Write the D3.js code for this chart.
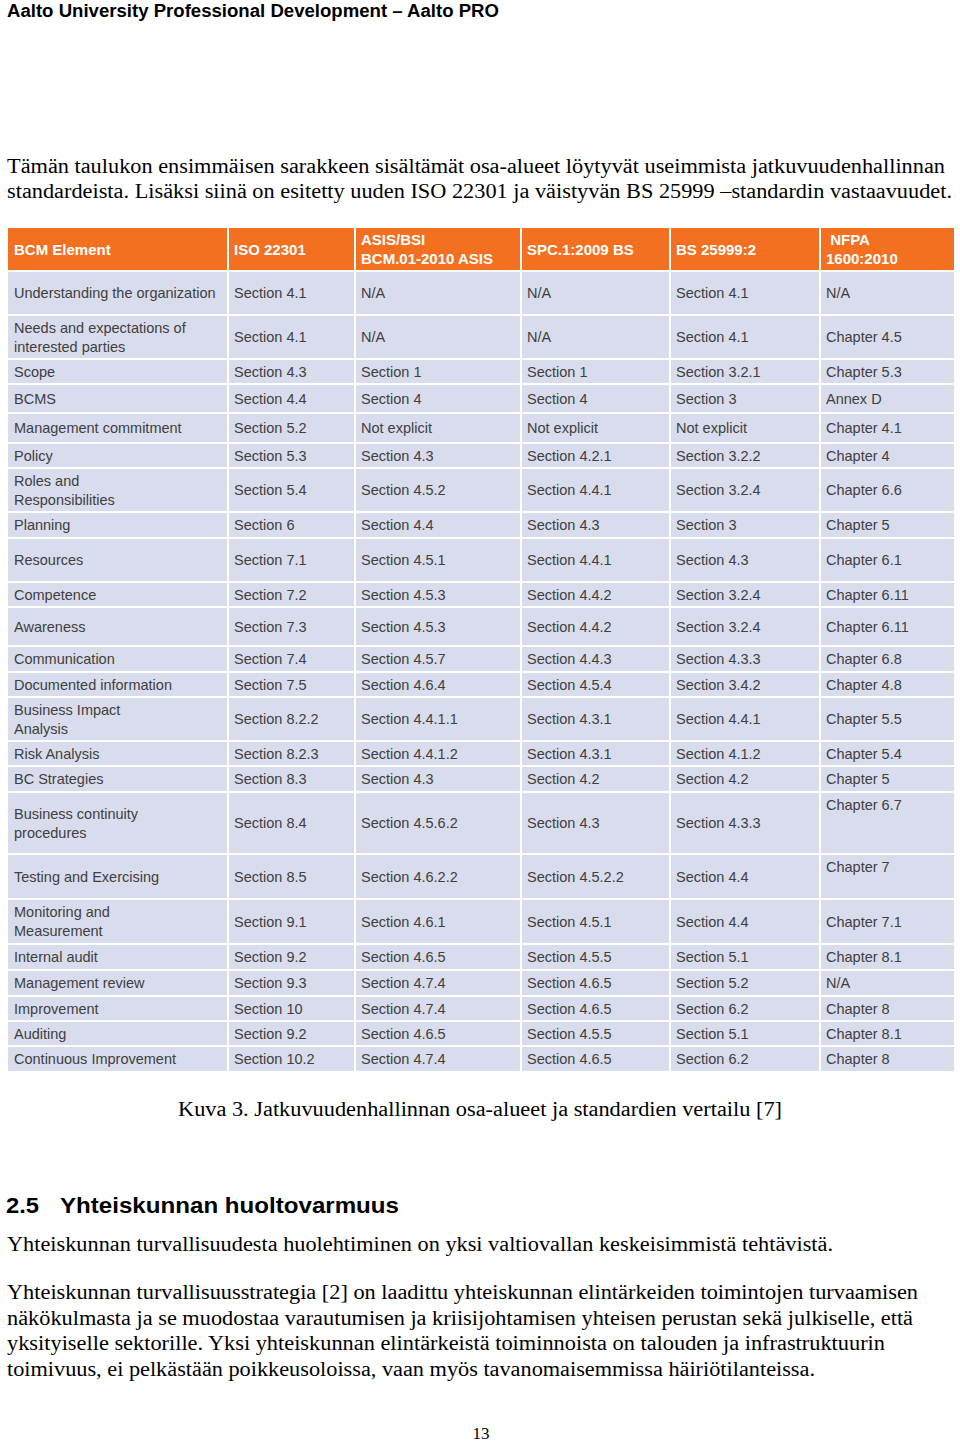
<!DOCTYPE html>
<html>
<head>
<meta charset="utf-8">
<script src="https://cdn.jsdelivr.net/npm/d3@7"></script>
<style>
  body { margin: 0; background: #fff; }
  svg { display: block; }
</style>
</head>
<body>
<div id="page"></div>
<script>
// table data
var headers = [["BCM Element"], ["ISO 22301"], ["ASIS/BSI", "BCM.01-2010 ASIS"], ["SPC.1:2009 BS"], ["BS 25999:2"], [" NFPA", "1600:2010"]];

var elements = [
  ["Understanding the organization"], ["Needs and expectations of", "interested parties"], ["Scope"], ["BCMS"],
  ["Management commitment"], ["Policy"], ["Roles and", "Responsibilities"], ["Planning"], ["Resources"],
  ["Competence"], ["Awareness"], ["Communication"], ["Documented information"], ["Business Impact", "Analysis"],
  ["Risk Analysis"], ["BC Strategies"], ["Business continuity", "procedures"], ["Testing and Exercising"],
  ["Monitoring and", "Measurement"], ["Internal audit"], ["Management review"], ["Improvement"], ["Auditing"],
  ["Continuous Improvement"]
];
var iso22301 = ["Section 4.1", "Section 4.1", "Section 4.3", "Section 4.4", "Section 5.2", "Section 5.3", "Section 5.4",
  "Section 6", "Section 7.1", "Section 7.2", "Section 7.3", "Section 7.4", "Section 7.5", "Section 8.2.2", "Section 8.2.3",
  "Section 8.3", "Section 8.4", "Section 8.5", "Section 9.1", "Section 9.2", "Section 9.3", "Section 10", "Section 9.2", "Section 10.2"];
var asisBsi = ["N/A", "N/A", "Section 1", "Section 4", "Not explicit", "Section 4.3", "Section 4.5.2", "Section 4.4",
  "Section 4.5.1", "Section 4.5.3", "Section 4.5.3", "Section 4.5.7", "Section 4.6.4", "Section 4.4.1.1", "Section 4.4.1.2",
  "Section 4.3", "Section 4.5.6.2", "Section 4.6.2.2", "Section 4.6.1", "Section 4.6.5", "Section 4.7.4", "Section 4.7.4",
  "Section 4.6.5", "Section 4.7.4"];
var spc2009 = ["N/A", "N/A", "Section 1", "Section 4", "Not explicit", "Section 4.2.1", "Section 4.4.1", "Section 4.3",
  "Section 4.4.1", "Section 4.4.2", "Section 4.4.2", "Section 4.4.3", "Section 4.5.4", "Section 4.3.1", "Section 4.3.1",
  "Section 4.2", "Section 4.3", "Section 4.5.2.2", "Section 4.5.1", "Section 4.5.5", "Section 4.6.5", "Section 4.6.5",
  "Section 4.5.5", "Section 4.6.5"];
var bs25999 = ["Section 4.1", "Section 4.1", "Section 3.2.1", "Section 3", "Not explicit", "Section 3.2.2", "Section 3.2.4",
  "Section 3", "Section 4.3", "Section 3.2.4", "Section 3.2.4", "Section 4.3.3", "Section 3.4.2", "Section 4.4.1",
  "Section 4.1.2", "Section 4.2", "Section 4.3.3", "Section 4.4", "Section 4.4", "Section 5.1", "Section 5.2",
  "Section 6.2", "Section 5.1", "Section 6.2"];
var nfpa1600 = ["N/A", "Chapter 4.5", "Chapter 5.3", "Annex D", "Chapter 4.1", "Chapter 4", "Chapter 6.6", "Chapter 5",
  "Chapter 6.1", "Chapter 6.11", "Chapter 6.11", "Chapter 6.8", "Chapter 4.8", "Chapter 5.5", "Chapter 5.4", "Chapter 5",
  "Chapter 6.7", "Chapter 7", "Chapter 7.1", "Chapter 8.1", "N/A", "Chapter 8", "Chapter 8.1", "Chapter 8"];
var nfpaTopAligned = ["Business continuity", "Testing and Exercising"];

// layout (pixels)
var colWidths = [220, 127, 166, 149, 150, 134];
var rowHeights = [43, 44, 44, 25, 29, 30, 25, 44, 26, 44, 25, 39, 26, 25, 44, 25, 26, 62, 45, 45, 26, 26, 25, 25, 25];
var tableLeft = 8, tableTop = 228;

var svg = d3.select("#page").append("svg")
  .attr("width", 960).attr("height", 1442);

var serif = "'Liberation Serif', 'Times New Roman', serif";
var sans = "'Liberation Sans', Arial, sans-serif";

function textLine(x, y, str, size, family, weight, len, anchor) {
  var t = svg.append("text")
    .attr("x", x).attr("y", y)
    .attr("font-family", family)
    .attr("font-size", size)
    .attr("font-weight", weight || "normal")
    .attr("fill", "#000")
    .attr("text-anchor", anchor || "start")
    .text(str);
  if (len) t.attr("textLength", len).attr("lengthAdjust", "spacingAndGlyphs");
  return t;
}

// page header + intro
textLine(7, 17, "Aalto University Professional Development \u2013 Aalto PRO", 18, sans, "bold", 492);
textLine(7, 173, "T\u00e4m\u00e4n taulukon ensimm\u00e4isen sarakkeen sis\u00e4lt\u00e4m\u00e4t osa-alueet l\u00f6ytyv\u00e4t useimmista jatkuvuudenhallinnan", 20, serif, null, 938);
textLine(7, 198, "standardeista. Lis\u00e4ksi siin\u00e4 on esitetty uuden ISO 22301 ja v\u00e4istyv\u00e4n BS 25999 \u2013standardin vastaavuudet.", 20, serif, null, 945);

// table scales
var colEdges = [0].concat(Array.from(d3.cumsum(colWidths)));
var rowEdges = [0].concat(Array.from(d3.cumsum(rowHeights)));
var x = d3.scaleLinear().domain([0, colEdges[colEdges.length - 1]]).range([tableLeft, tableLeft + colEdges[colEdges.length - 1]]);
var y = d3.scaleLinear().domain([0, rowEdges[rowEdges.length - 1]]).range([tableTop, tableTop + rowEdges[rowEdges.length - 1]]);

var columns = [elements, iso22301, asisBsi, spc2009, bs25999, nfpa1600];
var rows = elements.map(function(e, i) {
  return columns.map(function(col) {
    var v = col[i];
    return Array.isArray(v) ? v : [v];
  });
});
var tableRows = [headers].concat(rows);

var table = svg.append("g");

tableRows.forEach(function(row, r) {
  var isHead = r === 0;
  row.forEach(function(lines, c) {
    var x0 = x(colEdges[c]), x1 = x(colEdges[c + 1]);
    var y0 = y(rowEdges[r]), y1 = y(rowEdges[r + 1]);
    table.append("rect")
      .attr("x", x0 + (c === 0 ? 0 : 1))
      .attr("y", y0 + (r === 0 ? 0 : 1))
      .attr("width", x1 - x0 - (c === 0 ? 1 : 2) + (c === 5 ? 1 : 0))
      .attr("height", y1 - y0 - (r === 0 ? 1 : 2) + (r === tableRows.length - 1 ? 1 : 0))
      .attr("fill", isHead ? "#f37021" : "#d9dcec");

    var top = c === 5 && !isHead && nfpaTopAligned.indexOf(elements[r - 1][0]) >= 0;
    var lh = 19;
    var cy = top ? y0 + 18 : (y0 + y1) / 2 + 5 - (lines.length - 1) * lh / 2;
    lines.forEach(function(l, k) {
      table.append("text")
        .attr("x", x0 + 6)
        .attr("y", cy + k * lh)
        .attr("font-family", sans)
        .attr("font-size", isHead ? 15 : 14.5)
        .attr("font-weight", isHead ? "bold" : "normal")
        .attr("fill", isHead ? "#fff" : "#404040")
        .attr("xml:space", "preserve")
        .style("white-space", "pre")
        .text(l);
    });
  });
});

// caption + section
textLine(480, 1116, "Kuva 3. Jatkuvuudenhallinnan osa-alueet ja standardien vertailu [7]", 20, serif, null, 604, "middle");
textLine(6, 1213, "2.5", 22, sans, "bold", 33);
textLine(60, 1213, "Yhteiskunnan huoltovarmuus", 22, sans, "bold", 339);
textLine(7, 1251, "Yhteiskunnan turvallisuudesta huolehtiminen on yksi valtiovallan keskeisimmist\u00e4 teht\u00e4vist\u00e4.", 20, serif, null, 826);

var para = [
  ["Yhteiskunnan turvallisuusstrategia [2] on laadittu yhteiskunnan elint\u00e4rkeiden toimintojen turvaamisen", 911],
  ["n\u00e4k\u00f6kulmasta ja se muodostaa varautumisen ja kriisijohtamisen yhteisen perustan sek\u00e4 julkiselle, ett\u00e4", 906],
  ["yksityiselle sektorille. Yksi yhteiskunnan elint\u00e4rkeist\u00e4 toiminnoista on talouden ja infrastruktuurin", 878],
  ["toimivuus, ei pelk\u00e4st\u00e4\u00e4n poikkeusoloissa, vaan my\u00f6s tavanomaisemmissa h\u00e4iri\u00f6tilanteissa.", 808]
];
para.forEach(function(p, i) {
  textLine(7, 1299 + i * 25.7, p[0], 20, serif, null, p[1]);
});

textLine(481, 1439, "13", 17, serif, null, null, "middle");
</script>
</body>
</html>
